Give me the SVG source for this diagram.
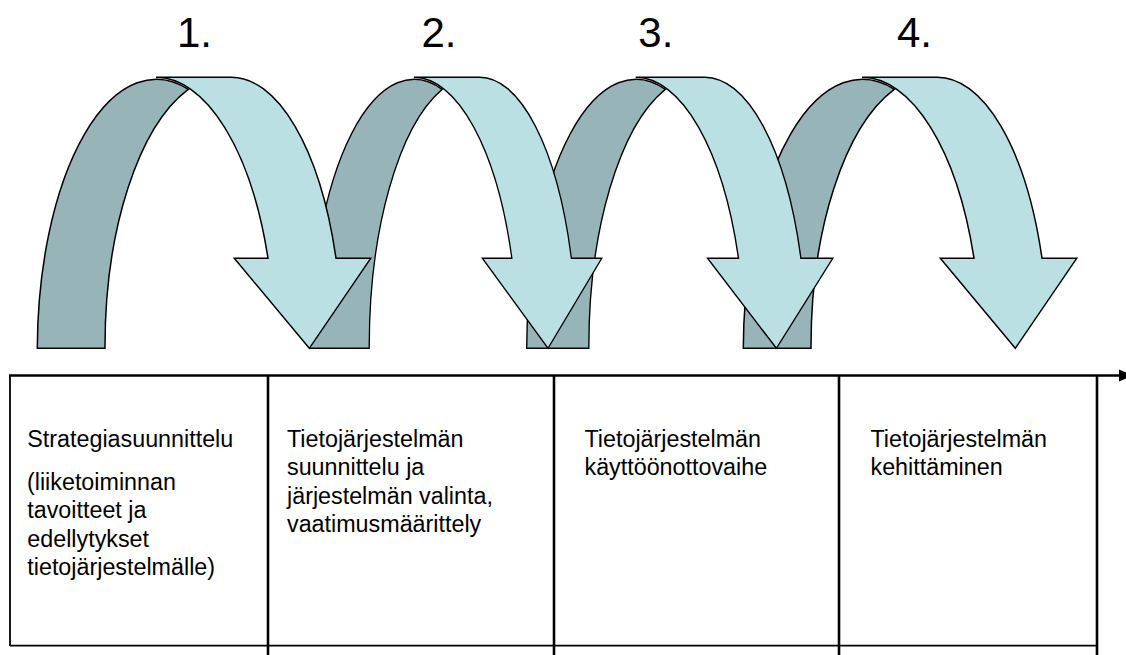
<svg xmlns="http://www.w3.org/2000/svg" xmlns:xlink="http://www.w3.org/1999/xlink" width="1126" height="655" viewBox="0 0 1126 655">
  <style>
    .back { fill: #97b4b8; stroke: #000; stroke-width: 1.5; stroke-linejoin: miter; vector-effect: non-scaling-stroke; }
    .front { fill: #bae0e4; stroke: #000; stroke-width: 1.5; stroke-linejoin: miter; vector-effect: non-scaling-stroke; }
    .num { font-family: "Liberation Sans", Arial, sans-serif; font-size: 42px; fill: #000; }
    .cell { font-family: "Liberation Sans", Arial, sans-serif; font-size: 23.3px; fill: #000; }
    .grid { stroke: #000; fill: none; }
    .heavy { stroke-width: 2.6; }
    .light { stroke-width: 1.8; }
  </style>
  <defs>
    <!-- curved down arrow: shaded back band + front band with head -->
    <path id="band-back" d="M37.3,348.3 A119,271 0 0 1 188.3,89.3 A122,271 0 0 0 105,348.3 Z"/>
    <path id="band-front" d="M156,77.3 L230,77.3 A111,271 0 0 1 336,258.3 L370.7,258.3 L309.3,348.3 L234.3,258.3 L268,258.3 A119,271 0 0 0 156,77.3 Z"/>
  </defs>

  <!-- arrows drawn right to left so each front band covers the next back band -->
  <g id="arrow-4" transform="translate(706,0)">
    <use xlink:href="#band-back" class="back"/>
    <use xlink:href="#band-front" class="front"/>
  </g>
  <g id="arrow-3" transform="translate(526.7,0) scale(0.918,1) translate(-37.3,0)">
    <use xlink:href="#band-back" class="back"/>
    <use xlink:href="#band-front" class="front"/>
  </g>
  <g id="arrow-2" transform="translate(310,0) scale(0.875,1) translate(-37.3,0)">
    <use xlink:href="#band-back" class="back"/>
    <use xlink:href="#band-front" class="front"/>
  </g>
  <g id="arrow-1">
    <use xlink:href="#band-back" class="back"/>
    <use xlink:href="#band-front" class="front"/>
  </g>

  <!-- step numbers -->
  <g id="step-numbers">
    <text class="num" x="177" y="47">1.</text>
    <text class="num" x="421.5" y="47">2.</text>
    <text class="num" x="638.3" y="47">3.</text>
    <text class="num" x="897" y="47">4.</text>
  </g>

  <!-- phase table with time axis along the top -->
  <g id="connectors">
    <line class="grid heavy" x1="9" y1="375.5" x2="1121" y2="375.5"/>
    <polygon points="1119,369.5 1133,375.5 1119,381.5" fill="#000"/>
    <line class="grid light" x1="10" y1="375" x2="10" y2="646"/>
    <line class="grid light" x1="10" y1="645.7" x2="1097" y2="645.7"/>
    <line class="grid heavy" x1="268" y1="375" x2="268" y2="655"/>
    <line class="grid heavy" x1="554" y1="375" x2="554" y2="655"/>
    <line class="grid heavy" x1="839" y1="375" x2="839" y2="655"/>
    <line class="grid heavy" x1="1097" y1="375" x2="1097" y2="655"/>
  </g>

  <g id="cell-1">
    <text class="cell" x="27.3" y="447">Strategiasuunnittelu</text>
    <text class="cell" x="27" y="490">(liiketoiminnan</text>
    <text class="cell" x="27.3" y="518.3">tavoitteet ja</text>
    <text class="cell" x="27.3" y="546.6">edellytykset</text>
    <text class="cell" x="27.3" y="574.9">tietojärjestelmälle)</text>
  </g>
  <g id="cell-2">
    <text class="cell" x="287" y="447">Tietojärjestelmän</text>
    <text class="cell" x="287" y="475.3">suunnittelu ja</text>
    <text class="cell" x="287" y="503.6">järjestelmän valinta,</text>
    <text class="cell" x="287" y="531.9">vaatimusmäärittely</text>
  </g>
  <g id="cell-3">
    <text class="cell" x="584.5" y="447">Tietojärjestelmän</text>
    <text class="cell" x="584.5" y="475.3">käyttöönottovaihe</text>
  </g>
  <g id="cell-4">
    <text class="cell" x="870.5" y="447">Tietojärjestelmän</text>
    <text class="cell" x="870.5" y="475.3">kehittäminen</text>
  </g>
</svg>
